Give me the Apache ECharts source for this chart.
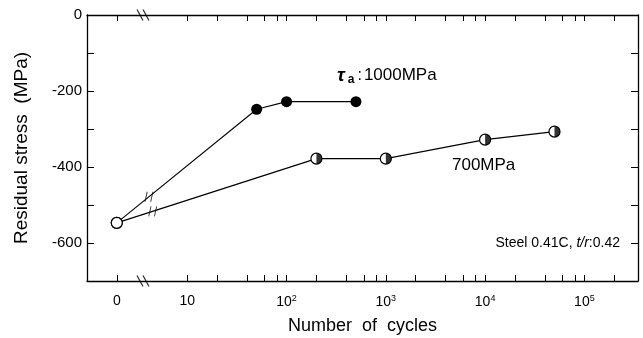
<!DOCTYPE html>
<html>
<head>
<meta charset="utf-8">
<script src="https://cdn.jsdelivr.net/npm/echarts@6/dist/echarts.min.js"></script>
<style>
  html, body { margin: 0; background: #fff; }
  #chart { width: 643px; height: 338px; }
</style>
</head>
<body>
<div id="chart"></div>
<script>
// measured points (0 cycles = as-machined state)
const cycles1000 = [0, 50, 100, 500];
const stress1000 = [-547, -248, -228, -228];
const cycles700 = [0, 200, 1000, 10000, 50000];
const stress700 = [-547, -378, -378, -328, -307];

// axis ticks
const xLabelCycles = [0, 10, 100, 1000, 10000, 100000];
const xLabelTexts = ["0", "10", "{b|10}{s|2}", "{b|10}{s|3}", "{b|10}{s|4}", "{b|10}{s|5}"];
const xMinorCycles = [20, 40, 60, 80, 200, 400, 600, 800, 2000, 4000, 6000, 8000,
  20000, 40000, 60000, 80000, 200000];

const FONT = "'Liberation Sans', Arial, sans-serif";
const ZERO_AT = 0.29;   // where "0 cycles" sits on the broken log axis
const BREAK_AT = 0.554; // axis break between 0 and 10

function pos(n) {
  return n === 0 ? ZERO_AT : Math.log10(n);
}

function pointAlong(xs, ys, t) {
  const x0 = pos(xs[0]), x1 = pos(xs[1]);
  return [x0 + (x1 - x0) * t, ys[0] + (ys[1] - ys[0]) * t];
}

const openCircle = { color: "#fff", borderColor: "#000", borderWidth: 1.2 };
const halfDisk = "path://M10,0 A10,10 0 0 1 10,20 Z M0,10 L0,10.01";
const axisBreak = "path://M0,0 L6,11 M6,0 L12,11";
const lineBreak = "path://M2,0 L0,10 M7,0 L5,10";

const xTickPos = xLabelCycles.concat(xMinorCycles).map(pos);

function xLabel(value) {
  const i = xLabelCycles.findIndex((c) => Math.abs(pos(c) - value) < 1e-6);
  return i < 0 ? "" : xLabelTexts[i];
}

const labelRich = {
  b: { fontSize: 14, fontFamily: FONT, color: "#000", lineHeight: 16 },
  s: { fontSize: 9, fontFamily: FONT, color: "#000", lineHeight: 9, verticalAlign: "top" },
};

function xAxisBase(position) {
  return {
    type: "value",
    position,
    min: -0.01,
    max: 5.54,
    axisLine: { show: true, onZero: false, lineStyle: { color: "#000", width: 1.3 } },
    axisTick: { show: true, inside: true, length: 6, customValues: xTickPos, lineStyle: { color: "#000", width: 1 } },
    splitLine: { show: false },
  };
}

function yAxisBase(position) {
  return {
    type: "value",
    position,
    min: -700,
    max: 0,
    interval: 100,
    axisLine: { show: true, onZero: false, lineStyle: { color: "#000", width: 1.3 } },
    axisTick: { show: true, inside: true, length: 7, lineStyle: { color: "#000", width: 1 } },
    splitLine: { show: false },
  };
}

const chart = echarts.init(document.getElementById("chart"), null, { renderer: "canvas" });

chart.setOption({
  animation: false,
  backgroundColor: "#fff",
  grid: { left: 87, right: 5, top: 15, bottom: 57, outerBoundsMode: "none" },
  xAxis: [
    Object.assign(xAxisBase("bottom"), {
      axisLabel: {
        customValues: xLabelCycles.map(pos),
        formatter: xLabel,
        margin: 13,
        color: "#000",
        fontSize: 14,
        fontFamily: FONT,
        rich: labelRich,
      },
      name: "Number  of  cycles",
      nameLocation: "middle",
      nameGap: 36,
      nameTextStyle: { color: "#000", fontSize: 18, fontFamily: FONT },
    }),
    Object.assign(xAxisBase("top"), { axisLabel: { show: false } }),
  ],
  yAxis: [
    Object.assign(yAxisBase("left"), {
      axisLabel: {
        formatter: (v) => (v % 200 === 0 ? String(v) : ""),
        margin: 5,
        color: "#000",
        fontSize: 15,
        fontFamily: FONT,
      },
      name: "Residual stress  (MPa)",
      nameLocation: "middle",
      nameGap: 56,
      nameTextStyle: { color: "#000", fontSize: 19, fontFamily: FONT },
    }),
    Object.assign(yAxisBase("right"), { axisLabel: { show: false } }),
  ],
  series: [
    {
      name: "1000MPa",
      type: "line",
      data: cycles1000.map((c, i) =>
        c === 0 ? { value: [pos(c), stress1000[i]], itemStyle: openCircle } : [pos(c), stress1000[i]]
      ),
      symbol: "circle",
      symbolSize: 11,
      itemStyle: { color: "#000", borderWidth: 0 },
      lineStyle: { color: "#000", width: 1.1 },
      z: 3,
    },
    {
      name: "700MPa",
      type: "line",
      data: cycles700.map((c, i) => [pos(c), stress700[i]]),
      symbol: "circle",
      symbolSize: 11,
      itemStyle: openCircle,
      lineStyle: { color: "#000", width: 1.1 },
      z: 2,
    },
    {
      name: "700MPa half",
      type: "scatter",
      data: cycles700.slice(1).map((c, i) => [pos(c), stress700[i + 1]]),
      symbol: halfDisk,
      symbolSize: 11,
      itemStyle: { color: "#000" },
      z: 4,
    },
    {
      name: "line breaks",
      type: "scatter",
      data: [pointAlong(cycles1000, stress1000, 0.23), pointAlong(cycles700, stress700, 0.18)],
      symbol: lineBreak,
      symbolSize: [8, 10],
      itemStyle: { color: "rgba(0,0,0,0)", borderColor: "#000", borderWidth: 1 },
      z: 4,
    },
    {
      name: "axis breaks",
      type: "scatter",
      clip: false,
      data: [[BREAK_AT, 0], [BREAK_AT, -700]],
      symbol: axisBreak,
      symbolSize: [12, 11],
      itemStyle: { color: "rgba(0,0,0,0)", borderColor: "#000", borderWidth: 1.2 },
      z: 5,
    },
  ],
  graphic: [
    {
      type: "text",
      left: 337,
      top: 66,
      style: {
        text: "{t|τ}{a|a}{c|:}{n|1000MPa}",
        rich: {
          t: { fontSize: 19, fontWeight: "bold", fontStyle: "italic", fontFamily: FONT, fill: "#000", lineHeight: 20 },
          a: { fontSize: 12, fontWeight: "bold", fontFamily: FONT, fill: "#000", lineHeight: 12, verticalAlign: "bottom", padding: [0, 0, 0, 3] },
          c: { fontSize: 16, fontFamily: FONT, fill: "#000", lineHeight: 20, padding: [0, 2, 0, 3] },
          n: { fontSize: 17, fontFamily: FONT, fill: "#000", lineHeight: 20 },
        },
      },
    },
    {
      type: "text",
      left: 452,
      top: 157,
      style: { text: "700MPa", font: "17px " + FONT, fill: "#000" },
    },
    {
      type: "text",
      right: 23,
      top: 236,
      style: {
        text: "Steel 0.41C, {i|t/r}:0.42",
        font: "14px " + FONT,
        fill: "#000",
        rich: { i: { fontSize: 14, fontStyle: "italic", fontFamily: FONT, fill: "#000" } },
      },
    },
  ],
});
</script>
</body>
</html>
